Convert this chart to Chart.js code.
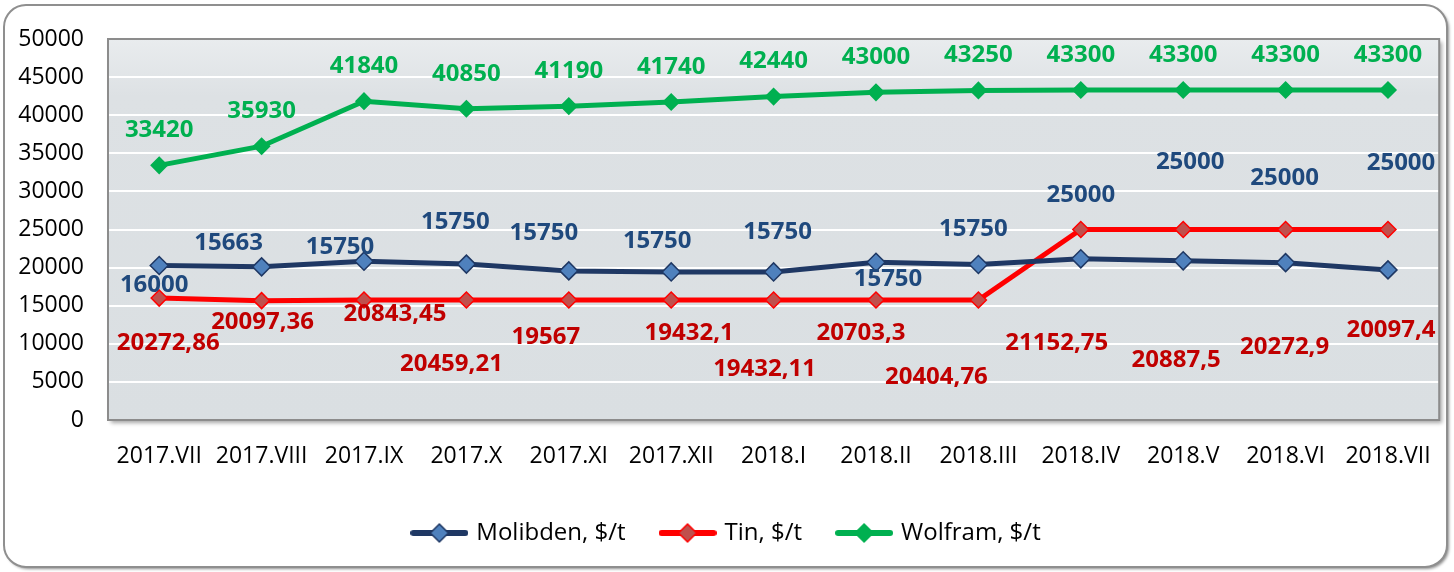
<!DOCTYPE html>
<html>
<head>
<meta charset="utf-8">
<script src="https://cdn.jsdelivr.net/npm/chart.js@4/dist/chart.umd.min.js"></script>
<style>
  html, body { margin: 0; padding: 0; background: #fff; }
  canvas { display: block; }
</style>
</head>
<body>
<canvas id="chart" width="1454" height="572"></canvas>
<script>
const months = ["2017.VII", "2017.VIII", "2017.IX", "2017.X", "2017.XI", "2017.XII",
  "2018.I", "2018.II", "2018.III", "2018.IV", "2018.V", "2018.VI", "2018.VII"]

// plotted positions
const molibden = [20272.86, 20097.36, 20843.45, 20459.21, 19567, 19432.1, 19432.11,
  20703.3, 20404.76, 21152.75, 20887.5, 20650, 19700]
const tin = [16000, 15663, 15750, 15750, 15750, 15750, 15750, 15750, 15750,
  25000, 25000, 25000, 25000]
const wolfram = [33420, 35930, 41840, 40850, 41190, 41740, 42440, 43000, 43250,
  43300, 43300, 43300, 43300]

// numbers as printed in the molibden labels
const molibdenPrinted = [20272.86, 20097.36, 20843.45, 20459.21, 19567, 19432.1, 19432.11,
  20703.3, 20404.76, 21152.75, 20887.5, 20272.9, 20097.4]

const yMin = 0
const yMax = 50000
const yStep = 5000

// the original's labels are crossed: the blue labels show tin prices, the red ones molibden
const fmt = v => String(v).replace(".", ",")
const molLabels = tin.map(fmt)
const tinLabels = molibdenPrinted.map(fmt)
const wolLabels = wolfram.map(fmt)

// hand-placed label nudges (px from each point)
const molLabelShift = [[-5, 20], [-33, -24], [-24, -14], [-11, -42], [-25, -38], [-14, -31], [4, -40],
  [12, 17], [-5, -35], [0, -64], [7, -99], [-1, -84], [13, -107]]
const tinLabelShift = [[9, 45], [1, 22], [31, 14], [-15, 64], [-23, 37], [18, 33], [-9, 69],
  [-15, 33], [-42, 77], [-24, 114], [-7, 131], [-1, 118], [3, 101]]
const wolLabelShift = wolfram.map(() => [0, -35])

const FONT = "'Open Sans', 'Liberation Sans', sans-serif"

function legendIcon(line, fill, border) {
  const c = document.createElement("canvas")
  c.width = 58
  c.height = 22
  const g = c.getContext("2d")
  g.strokeStyle = line
  g.lineWidth = 6
  g.lineCap = "round"
  g.beginPath()
  g.moveTo(3, 11)
  g.lineTo(55, 11)
  g.stroke()
  g.beginPath()
  g.moveTo(29, 2); g.lineTo(38, 11); g.lineTo(29, 20); g.lineTo(20, 11); g.closePath()
  g.fillStyle = fill
  g.fill()
  g.lineWidth = 1.5
  g.strokeStyle = border
  g.stroke()
  return c
}

const legendIcons = [
  legendIcon("#1F3864", "#4F81BD", "#1F3864"),
  legendIcon("#FF0000", "#C0504D", "#FF0000"),
  legendIcon("#00B050", "#00B050", "#00B050")
]

const frame = {
  id: "frame",
  beforeDraw(chart) {
    const { ctx, chartArea: a } = chart
    ctx.save()
    ctx.shadowColor = "rgba(0,0,0,0.45)"
    ctx.shadowOffsetX = 2
    ctx.shadowOffsetY = 2
    ctx.shadowBlur = 3
    ctx.beginPath()
    ctx.roundRect(4, 5, 1443, 562, 22)
    ctx.fillStyle = "#fff"
    ctx.fill()
    ctx.shadowColor = "transparent"
    ctx.lineWidth = 2
    ctx.strokeStyle = "#8f8f8f"
    ctx.stroke()

    ctx.shadowColor = "rgba(0,0,0,0.35)"
    ctx.shadowOffsetX = 3
    ctx.shadowOffsetY = 3
    ctx.shadowBlur = 4
    const grad = ctx.createLinearGradient(0, a.top, 0, a.bottom)
    grad.addColorStop(0, "#e9ecee")
    grad.addColorStop(0.15, "#dde1e4")
    grad.addColorStop(1, "#dadfe2")
    ctx.fillStyle = grad
    ctx.fillRect(a.left, a.top, a.right - a.left, a.bottom - a.top)
    ctx.restore()
  },
  beforeDatasetsDraw(chart) {
    const { ctx, chartArea: a } = chart
    ctx.save()
    ctx.lineWidth = 2
    ctx.strokeStyle = "#8c8c8c"
    ctx.strokeRect(a.left, a.top, a.right - a.left, a.bottom - a.top)
    ctx.restore()
  }
}

const valueLabels = {
  id: "valueLabels",
  afterDatasetsDraw(chart) {
    const { ctx } = chart
    ctx.save()
    ctx.font = "bold 24px " + FONT
    ctx.textAlign = "center"
    ctx.textBaseline = "middle"
    chart.data.datasets.forEach((ds, i) => {
      chart.getDatasetMeta(i).data.forEach((pt, j) => {
        const [dx, dy] = ds.labelShift[j]
        ctx.fillStyle = ds.labelColor
        ctx.fillText(ds.labelText[j], pt.x + dx, pt.y + dy)
      })
    })
    ctx.restore()
  }
}

new Chart(document.getElementById("chart"), {
  type: "line",
  data: {
    labels: months,
    datasets: [
      {
        label: "Molibden, $/t",
        data: molibden,
        borderColor: "#1F3864",
        backgroundColor: "#4F81BD",
        pointBorderColor: "#1F3864",
        pointRadius: 9,
        labelText: molLabels,
        labelShift: molLabelShift,
        labelColor: "#1F497D"
      },
      {
        label: "Tin, $/t",
        data: tin,
        borderColor: "#FF0000",
        backgroundColor: "#C0504D",
        pointBorderColor: "#FF0000",
        pointRadius: 8,
        labelText: tinLabels,
        labelShift: tinLabelShift,
        labelColor: "#C00000"
      },
      {
        label: "Wolfram, $/t",
        data: wolfram,
        borderColor: "#00B050",
        backgroundColor: "#00B050",
        pointBorderColor: "#00B050",
        pointRadius: 8,
        labelText: wolLabels,
        labelShift: wolLabelShift,
        labelColor: "#00B050"
      }
    ]
  },
  options: {
    responsive: false,
    animation: false,
    layout: { padding: { top: 39, left: 10, right: 9, bottom: 17 } },
    elements: {
      line: { borderWidth: 5, tension: 0 },
      point: { pointStyle: "rectRot", borderWidth: 1.5 }
    },
    plugins: {
      tooltip: { enabled: false },
      legend: {
        position: "bottom",
        labels: {
          usePointStyle: true,
          pointStyleWidth: 50,
          padding: 37,
          color: "#000",
          font: { family: FONT, size: 24 },
          generateLabels: chart => Chart.defaults.plugins.legend.labels.generateLabels(chart)
            .map((item, i) => ({ ...item, pointStyle: legendIcons[i] }))
        }
      }
    },
    scales: {
      x: {
        offset: true,
        grid: { display: false, drawTicks: false, offset: true },
        border: { display: false },
        ticks: { color: "#000", padding: 23, maxRotation: 0, autoSkip: false, font: { family: FONT, size: 23 } },
        afterFit: s => { s.height = 64 }
      },
      y: {
        min: yMin,
        max: yMax,
        grid: { color: "#ffffff", lineWidth: 2, drawTicks: false },
        border: { display: false },
        ticks: {
          stepSize: yStep,
          color: "#000",
          padding: 24,
          font: { family: FONT, size: 23 },
          callback: v => String(v)
        },
        afterFit: s => { s.width = 98 }
      }
    }
  },
  plugins: [frame, valueLabels]
})
</script>
</body>
</html>
